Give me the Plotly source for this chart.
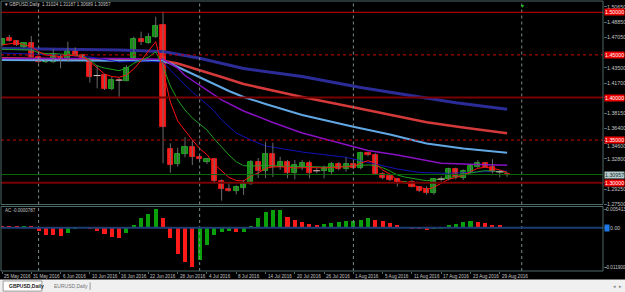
import plotly.graph_objects as go

# ---------------- data ----------------
bar_index = list(range(70))
opens = [1.4616, 1.4695, 1.4663, 1.4589, 1.4636, 1.4472, 1.4415, 1.4413, 1.4466, 1.4432,
         1.4546, 1.4499, 1.4455, 1.4258, 1.4260, 1.4103, 1.4203, 1.4197, 1.4460, 1.4687,
         1.4643, 1.4707, 1.4851, 1.3392, 1.3215, 1.3337, 1.3419, 1.3298, 1.3239, 1.3275,
         1.3020, 1.2930, 1.2899, 1.2941, 1.2981, 1.3239, 1.3137, 1.3337, 1.3188, 1.3246,
         1.3110, 1.3200, 1.3227, 1.3140, 1.3141, 1.3122, 1.3216, 1.3157, 1.3219, 1.3169,
         1.3345, 1.3322, 1.3099, 1.3079, 1.3040, 1.3000, 1.3005, 1.2946, 1.2923, 1.2876,
         1.3041, 1.3040, 1.3157, 1.3052, 1.3129, 1.3188, 1.3227, 1.3184, 1.3127, 1.31024]
highs = [1.4700, 1.4734, 1.4675, 1.4645, 1.4722, 1.4480, 1.4440, 1.4569, 1.4499, 1.4655,
         1.4589, 1.4510, 1.4465, 1.4381, 1.4275, 1.4240, 1.4229, 1.4381, 1.4714, 1.4772,
         1.4754, 1.4948, 1.5007, 1.3462, 1.3411, 1.3533, 1.3493, 1.3310, 1.3290, 1.3285,
         1.3040, 1.3004, 1.2969, 1.3032, 1.3266, 1.3290, 1.3481, 1.3470, 1.3305, 1.3266,
         1.3266, 1.3266, 1.3258, 1.3172, 1.3200, 1.3243, 1.3243, 1.3298, 1.3239, 1.3364,
         1.3364, 1.3345, 1.3122, 1.3090, 1.3052, 1.3012, 1.3032, 1.2961, 1.2958, 1.3052,
         1.3075, 1.3176, 1.3176, 1.3157, 1.3216, 1.3266, 1.3243, 1.3275, 1.3149, 1.31187]
lows = [1.4600, 1.4655, 1.4605, 1.4580, 1.4470, 1.4405, 1.4405, 1.4405, 1.4343, 1.4420,
        1.4488, 1.4445, 1.4174, 1.4108, 1.4088, 1.4085, 1.4002, 1.4190, 1.4450, 1.4616,
        1.4630, 1.4700, 1.3228, 1.3117, 1.3188, 1.3298, 1.3208, 1.3260, 1.3220, 1.3000,
        1.2789, 1.2895, 1.2864, 1.2856, 1.2975, 1.3055, 1.3055, 1.3067, 1.3152, 1.3052,
        1.3040, 1.3145, 1.3052, 1.3110, 1.3052, 1.3090, 1.3145, 1.3129, 1.3157, 1.3157,
        1.3310, 1.3090, 1.3040, 1.3020, 1.2954, 1.2990, 1.2946, 1.2894, 1.2860, 1.2860,
        1.3012, 1.3028, 1.3040, 1.3032, 1.3110, 1.3176, 1.3180, 1.3110, 1.3063, 1.30689]
closes = [1.4690, 1.4667, 1.4616, 1.4636, 1.4479, 1.4413, 1.4419, 1.4511, 1.4462, 1.4546,
          1.4491, 1.4452, 1.4244, 1.4258, 1.4100, 1.4205, 1.4203, 1.4343, 1.4683, 1.4648,
          1.4706, 1.4839, 1.3657, 1.3208, 1.3337, 1.3419, 1.3305, 1.3275, 1.3275, 1.3020,
          1.2923, 1.2903, 1.2946, 1.2981, 1.3239, 1.3137, 1.3337, 1.3181, 1.3246, 1.3110,
          1.3204, 1.3227, 1.3110, 1.3140, 1.3169, 1.3216, 1.3161, 1.3219, 1.3176, 1.3345,
          1.3322, 1.3099, 1.3059, 1.3032, 1.3000, 1.3005, 1.2953, 1.2906, 1.2876, 1.3040,
          1.3041, 1.3157, 1.3070, 1.3137, 1.3196, 1.3227, 1.3188, 1.3129, 1.3127, 1.30957]

# moving averages (bar index -> price)
ma_red_fast_x = [0, 2, 4, 5, 6, 8, 9, 11, 12, 13, 14, 15, 16, 17, 18, 19, 20, 21, 22, 23, 24, 25, 26, 27,
                 28, 29, 30, 31, 32, 33, 34, 35, 36, 37, 38, 40, 42, 44, 46, 48, 49, 50, 51, 52, 53, 54,
                 55, 56, 57, 58, 59, 60, 61, 62, 63, 64, 65, 66, 67, 68, 69]
ma_red_fast_y = [1.4616, 1.4643, 1.4596, 1.4538, 1.4499, 1.4479, 1.4499, 1.4481, 1.4420, 1.4346, 1.4276,
                 1.4246, 1.4237, 1.4264, 1.4334, 1.4434, 1.4546, 1.4655, 1.4311, 1.3947, 1.3724, 1.3607,
                 1.3501, 1.3400, 1.3330, 1.3219, 1.3137, 1.3061, 1.3026, 1.3020, 1.3079, 1.3114, 1.3169,
                 1.3184, 1.3188, 1.3173, 1.3178, 1.3173, 1.3184, 1.3190, 1.3230, 1.3258, 1.3231, 1.3149,
                 1.3100, 1.3032, 1.3000, 1.2973, 1.2948, 1.2923, 1.2946, 1.2993, 1.3040, 1.3060, 1.3085,
                 1.3130, 1.3169, 1.3181, 1.3170, 1.3149, 1.3122]
ma_green_x = [0, 2, 4, 5, 6, 8, 10, 11, 12, 13, 14, 15, 16, 17, 18, 19, 20, 21, 22, 23, 24, 25, 26, 27, 28,
              29, 30, 31, 32, 33, 34, 36, 38, 40, 42, 44, 46, 48, 50, 51, 52, 53, 54, 55, 56, 57, 58, 59,
              60, 61, 62, 63, 64, 65, 66, 67, 68, 69]
ma_green_y = [1.4566, 1.4563, 1.4557, 1.4526, 1.4516, 1.4511, 1.4499, 1.4487, 1.4440, 1.4370, 1.4346,
              1.4331, 1.4315, 1.4343, 1.4401, 1.4440, 1.4472, 1.4538, 1.4361, 1.4135, 1.3971, 1.3853,
              1.3759, 1.3689, 1.3619, 1.3513, 1.3419, 1.3325, 1.3246, 1.3200, 1.3196, 1.3202, 1.3196,
              1.3190, 1.3184, 1.3184, 1.3190, 1.3196, 1.3208, 1.3202, 1.3176, 1.3137, 1.3090, 1.3067,
              1.3052, 1.3038, 1.3023, 1.3032, 1.3043, 1.3059, 1.3073, 1.3090, 1.3114, 1.3129, 1.3141,
              1.3137, 1.3129, 1.3122]
ma_navy_x = [0, 8, 12, 16, 19, 22, 23, 24, 25, 26, 27, 28, 29, 30, 31, 32, 34, 36, 41, 47, 51, 54, 57, 61, 65, 69]
ma_navy_y = [1.4522, 1.4499, 1.4475, 1.4417, 1.4428, 1.4417, 1.4323, 1.4229, 1.4147, 1.4065, 1.3994,
             1.3924, 1.3842, 1.3736, 1.3654, 1.3583, 1.3501, 1.3431, 1.3360, 1.3298, 1.3219, 1.3161,
             1.3120, 1.3110, 1.3126, 1.3137]
ma_purple_x = [0, 16, 22, 23, 24, 25, 27, 30, 33, 37, 41, 46, 50, 54, 60, 65, 69]
ma_purple_y = [1.4458, 1.4458, 1.4448, 1.4393, 1.4346, 1.4258, 1.4147, 1.3971, 1.3842, 1.3707, 1.3583,
               1.3466, 1.3378, 1.3325, 1.3228, 1.3214, 1.3204]
ma_lightblue_x = [0, 16, 22, 23, 24, 25, 26, 27, 28, 29, 30, 31, 32, 33, 36, 41, 48, 53, 58, 63, 69]
ma_lightblue_y = [1.4440, 1.4434, 1.4428, 1.4399, 1.4358, 1.4317, 1.4276, 1.4237, 1.4194, 1.4153, 1.4112,
                  1.4076, 1.4041, 1.4006, 1.3924, 1.3795, 1.3657, 1.3566, 1.3460, 1.3401, 1.3352]
ma_redslow_x = [0, 8, 16, 22, 24, 27, 30, 33, 41, 48, 58, 63, 69]
ma_redslow_y = [1.4460, 1.4452, 1.4440, 1.4432, 1.4399, 1.4323, 1.4241, 1.4158, 1.4006, 1.3885, 1.3709,
                1.3648, 1.3580]
ma_blueslow_x = [0, 8, 16, 22, 27, 33, 41, 49, 57, 62, 69]
ma_blueslow_y = [1.4575, 1.4569, 1.4557, 1.4540, 1.4460, 1.4340, 1.4246, 1.4117, 1.4009, 1.3939, 1.3862]

# Accelerator oscillator values
ac_values = [0.00030, 0.00024, 0.00018, 0.00027, 0.00015, -0.00098, -0.00217, -0.00238, -0.00247, -0.00187,
             -0.00059, -0.00009, -0.00059, -0.00098, -0.00199, -0.00297, -0.00318, -0.00187, 0.00051, 0.00277,
             0.00407, 0.005413, 0.00277, -0.00318, -0.00794, -0.01041, -0.01190, -0.00981, -0.00515, -0.00217,
             -0.00140, -0.00119, -0.00149, -0.00140, 0.00010, 0.00277, 0.00455, 0.00497, 0.00510, 0.00300,
             0.00200, 0.00140, 0.00110, 0.00080, 0.00110, 0.00128, 0.00149, 0.00178, 0.00184, 0.00229,
             0.00259, 0.00229, 0.00170, 0.00128, 0.00051, -0.00006, -0.00059, -0.00068, -0.00089, -0.00051,
             -0.00030, 0.00051, 0.00110, 0.00149, 0.00170, 0.00149, 0.00128, 0.00080, 0.00051, -0.0000787]

date_label_index = [0, 4, 8, 12, 16, 20, 24, 28, 32, 36, 40, 44, 48, 52, 56, 60, 64, 68]
date_labels = ["25 May 2016", "31 May 2016", "6 Jun 2016", "10 Jun 2016", "16 Jun 2016", "22 Jun 2016",
               "28 Jun 2016", "4 Jul 2016", "8 Jul 2016", "14 Jul 2016", "20 Jul 2016", "26 Jul 2016",
               "1 Aug 2016", "5 Aug 2016", "11 Aug 2016", "17 Aug 2016", "23 Aug 2016", "29 Aug 2016"]
month_separators = [5, 27, 48, 71]

price_ticks = [1.50650, 1.48850, 1.47050, 1.43500, 1.41700, 1.38150, 1.36400, 1.34600, 1.32800,
               1.29250, 1.27500]
price_tick_labels = ["1.50650", "1.48850", "1.47050", "1.43500", "1.41700", "1.38150", "1.36400",
                     "1.34600", "1.32800", "1.29250", "1.27500"]
level_solid_bright = [1.50]
level_solid_dark = [1.40, 1.30]
level_dotted = [1.45, 1.35]
level_labels = [1.50, 1.45, 1.40, 1.35, 1.30]
bid_price = 1.30957
ac_max_label = 0.005413
ac_min_label = -0.011900

# ---------------- figure ----------------
X_RANGE = [-0.137, 82.1]
Y_RANGE = [1.27441, 1.51326]
AC_RANGE = [-0.012877, 0.006305]

fig = go.Figure()

def add_line(xs, ys, color, width):
    fig.add_trace(go.Scatter(x=xs, y=ys, mode="lines", line=dict(color=color, width=width),
                             hoverinfo="skip", xaxis="x", yaxis="y"))

add_line(ma_blueslow_x, ma_blueslow_y, "#2c2c98", 3)
add_line(ma_redslow_x, ma_redslow_y, "#d43a3a", 2.5)
add_line(ma_lightblue_x, ma_lightblue_y, "#62a8e4", 2)
add_line(ma_purple_x, ma_purple_y, "#8a10c4", 1.5)
add_line(ma_navy_x, ma_navy_y, "#1212b8", 1)
add_line(ma_green_x, ma_green_y, "#1ea01e", 1)
add_line(ma_red_fast_x, ma_red_fast_y, "#ff1010", 1)

# wicks
wx, wy = [], []
for i, h, l in zip(bar_index, highs, lows):
    wx += [i, i, None]
    wy += [l, h, None]
fig.add_trace(go.Scatter(x=wx, y=wy, mode="lines", line=dict(color="#6a6a6a", width=1),
                         hoverinfo="skip", xaxis="x", yaxis="y"))

# bodies
body_base = [min(o, c) for o, c in zip(opens, closes)]
body_h = [abs(c - o) for o, c in zip(opens, closes)]
body_fill = ["#168c16" if c > o else "#ff1a1a" for o, c in zip(opens, closes)]
body_edge = ["#22c022" if c > o else "#ff1a1a" for o, c in zip(opens, closes)]
fig.add_trace(go.Bar(x=bar_index, y=body_h, base=body_base, width=0.7,
                     marker=dict(color=body_fill, line=dict(color=body_edge, width=0.8)),
                     hoverinfo="skip", xaxis="x", yaxis="y"))
doji_x = [i for i, o, c in zip(bar_index, opens, closes) if o == c]
doji_y = [c for o, c in zip(opens, closes) if o == c]
fig.add_trace(go.Scatter(x=doji_x, y=doji_y, mode="markers",
                         marker=dict(symbol="line-ew", size=5, line=dict(color="#c8c8c8", width=1)),
                         hoverinfo="skip", xaxis="x", yaxis="y"))

# AC histogram
ac_colors = []
for k, v in enumerate(ac_values):
    prev = ac_values[k - 1] if k > 0 else v + 1
    ac_colors.append("#0aa00a" if v > prev else "#ff1a1a")
fig.add_trace(go.Bar(x=bar_index, y=ac_values, width=0.55, marker=dict(color=ac_colors, line=dict(width=0)),
                     hoverinfo="skip", xaxis="x2", yaxis="y2"))

shapes = []
# separators
for s in month_separators:
    shapes.append(dict(type="line", xref="x", yref="y", x0=s, x1=s, y0=Y_RANGE[0], y1=Y_RANGE[1],
                       line=dict(color="#7c8c8c", width=1, dash="dot")))
    shapes.append(dict(type="line", xref="x2", yref="y2", x0=s, x1=s, y0=AC_RANGE[0], y1=AC_RANGE[1],
                       line=dict(color="#7c8c8c", width=1, dash="dot")))
# levels
for p in level_solid_bright:
    shapes.append(dict(type="line", xref="paper", yref="y", x0=0, x1=1, y0=p, y1=p,
                       line=dict(color="#d00000", width=1)))
for p in level_solid_dark:
    shapes.append(dict(type="line", xref="paper", yref="y", x0=0, x1=1, y0=p, y1=p,
                       line=dict(color="#7a0000", width=2)))
for p in level_dotted:
    shapes.append(dict(type="line", xref="paper", yref="y", x0=0, x1=1, y0=p, y1=p,
                       line=dict(color="#d00000", width=1, dash="dot")))
shapes.append(dict(type="line", xref="paper", yref="y", x0=0, x1=1, y0=bid_price, y1=bid_price,
                   line=dict(color="#0a6a0a", width=1)))
shapes.append(dict(type="line", xref="paper", yref="y2", x0=0, x1=1, y0=0, y1=0,
                   line=dict(color="#1c3c74", width=2)))
# panel borders
border = "#4e6868"
shapes.append(dict(type="rect", xref="paper", yref="paper", x0=0, x1=1, y0=0.2463, y1=1,
                   line=dict(color=border, width=1)))
shapes.append(dict(type="rect", xref="paper", yref="paper", x0=0, x1=1, y0=0, y1=0.2389,
                   line=dict(color=border, width=1)))
# tab bar
shapes.append(dict(type="rect", xref="paper", yref="paper", x0=-0.01, x1=1.05, y0=-0.09, y1=-0.0315,
                   fillcolor="#f0f0f0", line=dict(width=0)))
shapes.append(dict(type="rect", xref="paper", yref="paper", x0=0.0035, x1=0.068, y0=-0.0745, y1=-0.037,
                   fillcolor="#ffffff", line=dict(color="#9a9a9a", width=1)))
shapes.append(dict(type="line", xref="paper", yref="paper", x0=0.148, x1=0.148, y0=-0.07, y1=-0.042,
                   line=dict(color="#9a9a9a", width=1)))

annotations = []
F = "Liberation Sans, Arial, sans-serif"
for p, t in zip(price_ticks, price_tick_labels):
    annotations.append(dict(xref="paper", yref="y", x=1, y=p, text=t, showarrow=False, xanchor="left",
                            xshift=2, yshift=(-2 if t == "1.34600" else 0),
                            font=dict(family=F, size=5.3, color="#c4c4c4")))
for p in level_labels:
    annotations.append(dict(xref="paper", yref="y", x=1, y=p, text="%.5f" % p, showarrow=False,
                            xanchor="left", xshift=1, bgcolor="#ee0000", borderpad=0,
                            font=dict(family=F, size=5.3, color="#ffffff")))
annotations.append(dict(xref="paper", yref="y", x=1, y=bid_price, text="%.5f" % bid_price, showarrow=False,
                        xanchor="left", xshift=1, bgcolor="#b4cccc", borderpad=0,
                        font=dict(family=F, size=5.3, color="#203030")))
annotations.append(dict(xref="paper", yref="y2", x=1, y=ac_max_label, text="%.6f" % ac_max_label,
                        showarrow=False, xanchor="left", xshift=1, font=dict(family=F, size=4.8, color="#c4c4c4")))
annotations.append(dict(xref="paper", yref="y2", x=1, y=ac_min_label, text="%.6f" % ac_min_label,
                        showarrow=False, xanchor="left", xshift=0, font=dict(family=F, size=4.6, color="#c4c4c4")))
annotations.append(dict(xref="paper", yref="y2", x=1, y=0, text="0.00", showarrow=False, xanchor="left",
                        xshift=5, font=dict(family=F, size=5.3, color="#c4c4c4")))
annotations.append(dict(xref="paper", yref="y2", x=1, y=0, text=" ", showarrow=False, xanchor="left",
                        xshift=1, bgcolor="#1e78e6", borderpad=0, width=4, font=dict(family=F, size=5.3)))
for i, t in zip(date_label_index, date_labels):
    annotations.append(dict(xref="x2", yref="paper", x=i, y=0, text=t, showarrow=False, xanchor="left",
                            yanchor="top", xshift=0, yshift=-1, font=dict(family=F, size=4.6, color="#c4c4c4")))
annotations.append(dict(xref="paper", yref="paper", x=0.004, y=0.986, text="▾ GBPUSD,Daily  1.31024 1.31187 1.30689 1.30957",
                        showarrow=False, xanchor="left", yanchor="middle", font=dict(family=F, size=4.5, color="#c4c4c4")))
annotations.append(dict(xref="paper", yref="paper", x=0.004, y=0.223, text="AC -0.0000787",
                        showarrow=False, xanchor="left", yanchor="middle", font=dict(family=F, size=4.5, color="#c4c4c4")))
annotations.append(dict(xref="paper", yref="paper", x=0.0095, y=-0.0555, text="<b>GBPUSD,Daily</b>",
                        showarrow=False, xanchor="left", yanchor="middle", font=dict(family=F, size=5, color="#202020")))
annotations.append(dict(xref="paper", yref="paper", x=0.085, y=-0.0555, text="EURUSD,Daily",
                        showarrow=False, xanchor="left", yanchor="middle", font=dict(family=F, size=5, color="#707070")))
annotations.append(dict(xref="paper", yref="paper", x=1.013, y=-0.0555, text="◂  ▸",
                        showarrow=False, xanchor="left", yanchor="middle", font=dict(family=F, size=5, color="#808080")))
annotations.append(dict(xref="paper", yref="paper", x=0.8655, y=1.0, text="▾",
                        showarrow=False, xanchor="center", yanchor="top", font=dict(family=F, size=6, color="#20c020")))

fig.update_layout(
    width=625, height=292,
    margin=dict(l=1, r=22, t=1, b=21),
    paper_bgcolor="#000000", plot_bgcolor="#000000",
    showlegend=False, barmode="overlay", bargap=0,
    xaxis=dict(domain=[0, 1], range=X_RANGE, anchor="y", showgrid=False, zeroline=False,
               showticklabels=False, ticks=""),
    yaxis=dict(domain=[0.2463, 1], range=Y_RANGE, side="right", anchor="x", showgrid=False, zeroline=False,
               showticklabels=False, ticks="outside", ticklen=3, tickcolor="#4e6868",
               tickvals=price_ticks + level_labels),
    xaxis2=dict(domain=[0, 1], range=X_RANGE, anchor="y2", matches="x", showgrid=False, zeroline=False,
                showticklabels=False, ticks="outside", ticklen=2, tickcolor="#4e6868", tickvals=date_label_index),
    yaxis2=dict(domain=[0, 0.2389], range=AC_RANGE, side="right", anchor="x2", showgrid=False, zeroline=False,
                showticklabels=False, ticks="outside", ticklen=3, tickcolor="#4e6868",
                tickvals=[ac_max_label, 0, ac_min_label]),
    shapes=shapes, annotations=annotations,
)

fig.write_html("out.html")
